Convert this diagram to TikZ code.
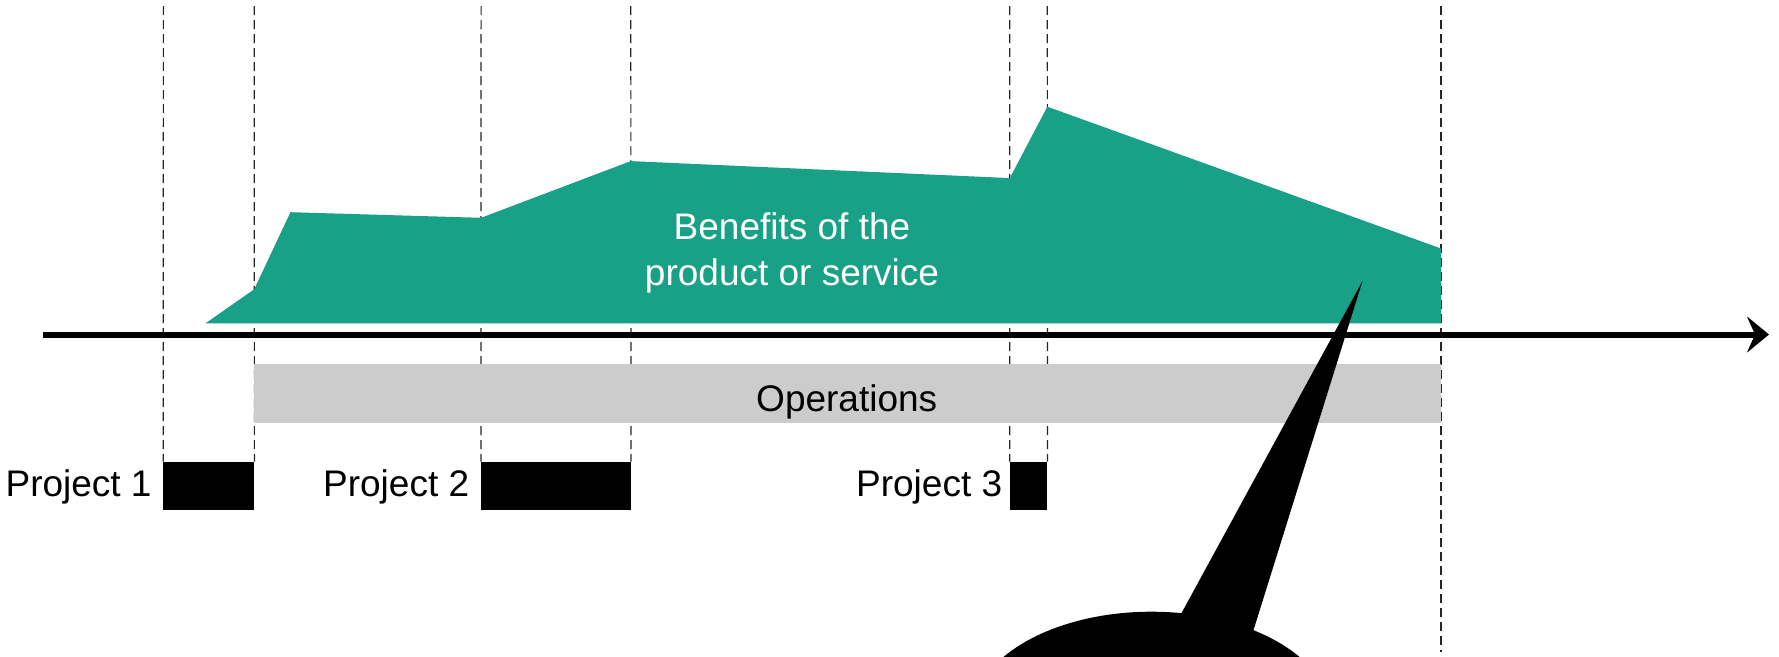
\documentclass[tikz,border=0pt]{standalone}
\usepackage{fontspec}
\setmainfont{Liberation Sans}
\usetikzlibrary{arrows.meta}
\definecolor{benefitgreen}{HTML}{18A187}
\definecolor{opsgray}{HTML}{CCCCCC}
\tikzset{
  guide/.style={draw=black!85, line width=1.2pt, dash pattern=on 9pt off 5pt},
  timeaxis/.style={draw=black, line width=6pt, -{Stealth[length=22pt,width=36pt,inset=8pt]}},
  projbox/.style={fill=black, draw=none, inner sep=0pt, minimum height=47.8pt},
  opsbox/.style={fill=opsgray, draw=none, inner sep=0pt, minimum width=1186.8pt, minimum height=59pt},
  lbl/.style={inner sep=0pt, font=\fontsize{37}{46}\selectfont},
}
\begin{document}
\begin{tikzpicture}[x=1pt,y=-1pt]
\fill[white] (0,0) rectangle (1779,656);
\useasboundingbox (0,0) rectangle (1779,656);

% project boxes
\node[projbox, minimum width=90.8pt] (p1) at (208.8,485.7) {};
\node[projbox, minimum width=149.7pt] (p2) at (556,485.7) {};
\node[projbox, minimum width=37.5pt] (p3) at (1028.6,485.7) {};

% dashed guides
\coordinate (g1) at (163.4,6);
\coordinate (g2) at (254.2,6);
\coordinate (g3) at (481.1,6);
\coordinate (g4) at (630.8,6);
\coordinate (g5) at (1009.8,6);
\coordinate (g6) at (1047.3,6);
\coordinate (g7) at (1441,6);
\coordinate (g7b) at (1441,652);
\draw[guide] (g1) -- (p1.north west);
\draw[guide] (g2) -- (p1.north east);
\draw[guide] (g3) -- (p2.north west);
\draw[guide] (g4) -- (p2.north east);
\draw[guide] (g5) -- (p3.north west);
\draw[guide] (g6) -- (p3.north east);
\draw[guide] (g7) -- (g7b);

% benefits area
\fill[benefitgreen] (205.4,323.4) -- (254.2,289.3) -- (290.5,212.2) -- (481.1,217.8)
  -- (630.8,161.1) -- (1009.8,178.1) -- (1047.3,106.7) -- (1441,248.5)
  -- (1441,323.4) -- cycle;
\node[lbl, text=white, align=center] (benefits) at (792,253.4) {Benefits of the\\product or service};

% operations
\node[opsbox] (ops) at (847.6,393.7) {};
\node[lbl, anchor=base] (opslabel) at (846.7,411.7) {Operations};

% time axis
\coordinate (axstart) at (43,334.5);
\coordinate (axend) at (1769,334.5);
\draw[timeaxis] (axstart) -- (axend);

% project labels
\node[lbl, anchor=base east] (l1) at ([xshift=-11.4pt]p1.west |- 0,496.7) {Project 1};
\node[lbl, anchor=base east] (l2) at ([xshift=-11.6pt]p2.west |- 0,496.7) {Project 2};
\node[lbl, anchor=base east] (l3) at ([xshift=-7.3pt]p3.west |- 0,496.7) {Project 3};

% callout bubble
\fill[black] (1151.5,716.7) ellipse [x radius=180pt, y radius=105pt];
\fill[black] (1181.7,612.7) -- (1362.5,281) -- (1253.3,630.7) -- (1215,660) -- cycle;
\end{tikzpicture}
\end{document}
